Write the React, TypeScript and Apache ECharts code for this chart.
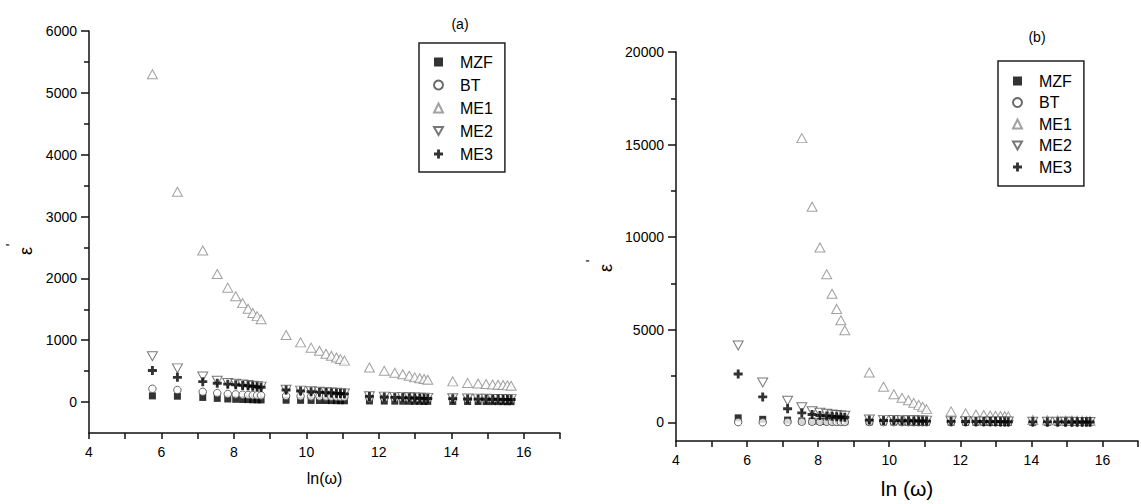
import React, { useEffect, useRef } from 'react';
import * as echarts from 'echarts';

const FONT = 'Liberation Sans, Arial, sans-serif';

// ln(omega) positions of the measured frequencies
const lnOmega = [5.75, 6.44, 7.14, 7.54, 7.83, 8.05, 8.24, 8.39, 8.52, 8.64, 8.75, 9.44, 9.84, 10.13, 10.36, 10.54, 10.69, 10.83, 10.94, 11.05, 11.74, 12.15, 12.44, 12.66, 12.84, 12.99, 13.13, 13.25, 13.35, 14.04, 14.45, 14.74, 14.96, 15.14, 15.29, 15.43, 15.55, 15.65];

const seriesNames = ['MZF', 'BT', 'ME1', 'ME2', 'ME3'];

// (a) panel
const aMZF = [100, 95, 75, 60, 50, 45, 42, 40, 38, 36, 35, 30, 28, 27, 26, 25, 24, 23, 22, 21, 18, 16, 15, 14, 13, 12, 12, 11, 11, 10, 9, 9, 8, 8, 8, 7, 7, 7];
const aBT = [215, 195, 165, 145, 130, 125, 120, 115, 112, 110, 108, 100, 95, 92, 90, 88, 86, 85, 84, 83, 70, 65, 62, 60, 58, 57, 56, 55, 54, 50, 48, 47, 46, 45, 44, 43, 42, 42];
const aME1 = [5300, 3400, 2450, 2070, 1850, 1710, 1600, 1510, 1440, 1390, 1340, 1085, 965, 880, 830, 780, 750, 720, 695, 670, 560, 505, 475, 450, 425, 400, 385, 372, 360, 335, 310, 300, 292, 285, 280, 276, 270, 265];
const aME2 = [740, 545, 415, 345, 310, 295, 285, 275, 265, 258, 250, 200, 185, 175, 168, 160, 155, 150, 145, 140, 95, 88, 84, 80, 77, 74, 72, 70, 68, 62, 58, 56, 54, 52, 51, 50, 49, 48];
const aME3 = [510, 400, 330, 305, 290, 280, 270, 262, 255, 248, 240, 195, 180, 168, 160, 153, 148, 143, 138, 133, 92, 82, 76, 72, 68, 65, 62, 60, 58, 55, 50, 48, 46, 45, 44, 43, 42, 41];

// (b) panel
const bMZF = [250, 170, 130, 80, 70, 60, 55, 50, 48, 46, 44, 35, 32, 30, 28, 27, 26, 25, 24, 23, 18, 16, 15, 14, 13, 12, 12, 11, 11, 10, 9, 9, 8, 8, 8, 7, 7, 7];
const bBT = [20, 10, 30, 40, 38, 36, 34, 32, 30, 28, 26, 22, 20, 19, 18, 17, 16, 15, 15, 14, 12, 11, 10, 10, 9, 9, 8, 8, 8, 7, 7, 6, 6, 6, 6, 5, 5, 5];
const bME1 = [null, null, null, 15350, 11650, 9450, 8000, 6950, 6130, 5520, 4980, 2700, 1930, 1520, 1330, 1200, 1060, 950, 850, 720, 600, 490, 430, 400, 380, 365, 350, 340, 330, 130, 120, 115, 110, 105, 100, 98, 95, 92];
const bME2 = [4160, 2160, 1170, 820, 610, 520, 470, 430, 400, 380, 360, 160, 140, 130, 125, 120, 115, 110, 105, 100, 70, 65, 60, 58, 56, 54, 52, 50, 48, 40, 38, 36, 35, 34, 33, 32, 31, 30];
const bME3 = [2620, 1380, 740, 520, 430, 380, 350, 330, 310, 295, 280, 130, 110, 100, 95, 90, 85, 80, 78, 75, 60, 55, 52, 50, 48, 46, 44, 42, 40, 35, 32, 30, 29, 28, 27, 26, 25, 25];

// axis ticks
const xTickLabels = [4, 6, 8, 10, 12, 14, 16];
const aYMajor = [0, 1000, 2000, 3000, 4000, 5000, 6000];
const aYMinor = [500, 1500, 2500, 3500, 4500, 5500];
const bYMajor = [0, 5000, 10000, 15000, 20000];
const bYMinor = [2500, 7500, 12500, 17500];

const PLUS = 'path://M3.4,0 H6.6 V3.4 H10 V6.6 H6.6 V10 H3.4 V6.6 H0 V3.4 H3.4 Z';
const DOWN_TRIANGLE = 'path://M0,0 L10,0 L5,9 Z';

const styles: Record<string, any> = {
  MZF: { symbol: 'rect', symbolSize: 7, itemStyle: { color: '#000' } },
  BT: { symbol: 'circle', symbolSize: 7.5, itemStyle: { color: '#fff', borderColor: '#444', borderWidth: 1 } },
  ME1: { symbol: 'triangle', symbolSize: [10, 9], itemStyle: { color: '#fff', borderColor: '#8a8a8a', borderWidth: 1 } },
  ME2: { symbol: DOWN_TRIANGLE, symbolSize: [10, 9], itemStyle: { color: '#fff', borderColor: '#555', borderWidth: 1 } },
  ME3: { symbol: PLUS, symbolSize: 9, itemStyle: { color: '#000' } },
};

function pairs(vals: (number | null)[]) {
  const out: number[][] = [];
  vals.forEach((v, i) => {
    if (v !== null && v !== undefined) out.push([lnOmega[i], v]);
  });
  return out;
}

const axisLine = { show: true, onZero: false, lineStyle: { color: '#111', width: 1.5 } };

function xAxisDef(gridIndex: number, name: string, nameSize: number) {
  return {
    type: 'value', gridIndex, min: 4, max: 17, interval: 1,
    name, nameLocation: 'middle', nameGap: 37,
    nameTextStyle: { fontFamily: FONT, fontSize: nameSize, color: '#000' },
    axisLine,
    axisTick: { show: true, length: 6, inside: false, lineStyle: { color: '#111', width: 1.5 } },
    axisLabel: {
      margin: 12, fontFamily: FONT, fontSize: 14, color: '#000',
      formatter: (v: number) => (xTickLabels.indexOf(v) >= 0 ? String(v) : ''),
    },
    splitLine: { show: false },
  };
}

function yAxisDefs(gridIndex: number, min: number, max: number, major: number[], minor: number[]) {
  return [
    {
      type: 'value', gridIndex, min, max, position: 'left',
      axisLine,
      axisTick: { show: true, length: 8, customValues: major, lineStyle: { color: '#111', width: 1.5 } },
      axisLabel: {
        show: true, customValues: major, margin: 12, fontFamily: FONT, fontSize: 14, color: '#000',
        formatter: (v: number) => String(v),
      },
      splitLine: { show: false },
    },
    {
      type: 'value', gridIndex, min, max, position: 'left', offset: 0,
      axisLine: { show: false },
      axisTick: { show: true, length: 5, customValues: minor, lineStyle: { color: '#111', width: 1.5 } },
      axisLabel: { show: false },
      splitLine: { show: false },
    },
  ];
}

function legendDef(left: number, top: number, gap: number, padding: number[]) {
  return {
    left, top, orient: 'vertical', data: seriesNames, selectedMode: false,
    itemWidth: 9, itemHeight: 9, itemGap: gap, padding,
    borderColor: '#222', borderWidth: 1.5, backgroundColor: '#fff',
    textStyle: { fontFamily: FONT, fontSize: 16, lineHeight: 16, color: '#000', padding: [0, 0, 0, 12] },
  };
}

export default function App() {
  const ref = useRef<HTMLDivElement>(null);
  useEffect(() => {
    if (!ref.current) return;
    const chart = echarts.init(ref.current, undefined, { renderer: 'svg' });
    const aData = [aMZF, aBT, aME1, aME2, aME3];
    const bData = [bMZF, bBT, bME1, bME2, bME3];
    const series: any[] = [];
    seriesNames.forEach((n, i) => {
      series.push({ type: 'scatter', name: n, xAxisIndex: 0, yAxisIndex: 0, data: pairs(aData[i]), ...styles[n] });
    });
    seriesNames.forEach((n, i) => {
      series.push({ type: 'scatter', name: n, xAxisIndex: 1, yAxisIndex: 2, data: pairs(bData[i]), ...styles[n] });
    });
    chart.setOption({
      animation: false,
      backgroundColor: '#fff',
      grid: [
        { left: 89, top: 31, width: 471, height: 402 },
        { left: 676, top: 52, width: 469, height: 391 },
      ],
      xAxis: [xAxisDef(0, 'ln(ω)', 16), xAxisDef(1, 'ln (ω)', 21)],
      yAxis: [
        ...yAxisDefs(0, -500, 6000, aYMajor, aYMinor),
        ...yAxisDefs(1, -1000, 20000, bYMajor, bYMinor),
      ],
      legend: [
        legendDef(419, 43, 7, [11, 12, 10, 14]),
        legendDef(998, 61, 5.5, [12, 12, 11, 14]),
      ],
      graphic: [
        { type: 'text', x: 460, y: 24, style: { text: '(a)', fontFamily: FONT, fontSize: 14, fill: '#000', align: 'center', verticalAlign: 'middle' } },
        { type: 'text', x: 1037, y: 37, style: { text: '(b)', fontFamily: FONT, fontSize: 14, fill: '#000', align: 'center', verticalAlign: 'middle' } },
        { type: 'text', x: 26, y: 251, rotation: Math.PI / 2, style: { text: 'ε', fontFamily: FONT, fontSize: 18, fill: '#000', align: 'center', verticalAlign: 'middle' } },
        { type: 'text', x: 11, y: 245, rotation: Math.PI / 2, style: { text: "'", fontFamily: FONT, fontSize: 14, fill: '#000', align: 'center', verticalAlign: 'middle' } },
        { type: 'text', x: 606, y: 268, rotation: Math.PI / 2, style: { text: 'ε', fontFamily: FONT, fontSize: 18, fill: '#000', align: 'center', verticalAlign: 'middle' } },
        { type: 'text', x: 591, y: 261, rotation: Math.PI / 2, style: { text: "'", fontFamily: FONT, fontSize: 14, fill: '#000', align: 'center', verticalAlign: 'middle' } },
      ],
      series,
    });
    return () => chart.dispose();
  }, []);
  return <div ref={ref} style={{ position: 'absolute', left: 0, top: 0, width: 1141, height: 504 }} />;
}
